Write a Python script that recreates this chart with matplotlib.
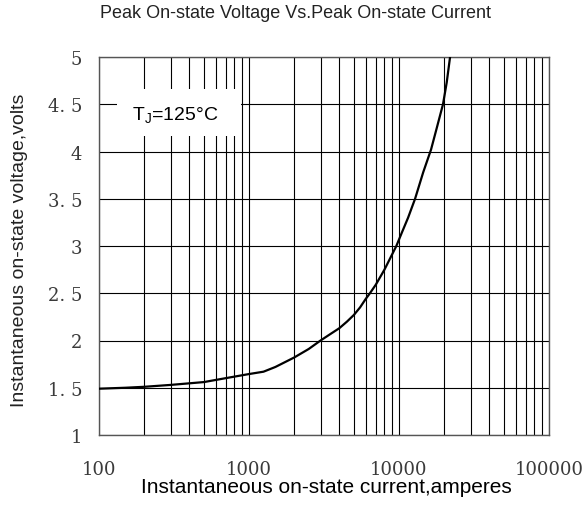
import numpy as np
import matplotlib
matplotlib.use('Agg')
import matplotlib.pyplot as plt
from matplotlib.ticker import FixedLocator, NullFormatter
from matplotlib.patches import Rectangle
from matplotlib.transforms import Bbox

# data
current = [100, 150, 200, 300, 500, 750, 1000, 1250, 1500, 2000, 2500, 3000, 3500,
           4000, 4500, 5000, 5500, 6000, 6400, 7000, 8000, 9600, 10500, 11500,
           12800, 14500, 16350, 18000, 19650, 20800, 21900]
voltage = [1.49, 1.50, 1.51, 1.53, 1.56, 1.61, 1.645, 1.67, 1.72, 1.82, 1.91, 2.00, 2.07,
           2.13, 2.20, 2.27, 2.35, 2.44, 2.50, 2.59, 2.75, 3.00, 3.15, 3.30,
           3.50, 3.78, 4.02, 4.27, 4.50, 4.73, 5.00]
x_ticks = [100, 1000, 10000, 100000]
x_labels = ['100', '1000', '10000', '100000']
y_ticks = [1, 1.5, 2, 2.5, 3, 3.5, 4, 4.5, 5]
y_labels = ['1', '1. 5', '2', '2. 5', '3', '3. 5', '4', '4. 5', '5']

plt.rcParams['mathtext.fontset'] = 'custom'
plt.rcParams['mathtext.rm'] = 'Liberation Sans'

fig = plt.figure(figsize=(5.87, 5.06), dpi=100)
ax = fig.add_axes([99/587, 1 - 436/506, 450/587, 378/506])

ax.plot(current, voltage, color='black', lw=1.6, zorder=4)

ax.set_xscale('log')
ax.set_xlim(100, 100000)
ax.set_ylim(1, 5)

minor = [m * 10**d for d in range(2, 5) for m in range(2, 10)]
ax.xaxis.set_minor_locator(FixedLocator(minor))
ax.xaxis.set_minor_formatter(NullFormatter())
ax.set_xticks(x_ticks)
ax.set_xticklabels(x_labels)
ax.set_yticks(y_ticks)
ax.set_yticklabels(y_labels)

ax.grid(True, which='both', axis='x', color='black', lw=0.8)
ax.grid(True, which='major', axis='y', color='black', lw=0.8)
ax.tick_params(which='both', length=0)
ax.tick_params(axis='x', pad=18)
ax.tick_params(axis='y', pad=12)
for lab in ax.get_xticklabels() + ax.get_yticklabels():
    lab.set_fontfamily('DejaVu Serif')
    lab.set_fontsize(13)
    lab.set_color('#3a3a3a')

for s in ax.spines.values():
    s.set_color('#555555')
    s.set_linewidth(1.0)

# white box behind the temperature label
ax.add_patch(Rectangle((0.04, 0.791), 0.276, 0.124, transform=ax.transAxes,
                       facecolor='white', edgecolor='none', zorder=3))
ax.text(0.073, 0.846, r'T$_{\rm J}$=125°C', transform=ax.transAxes,
        fontsize=14, family='Liberation Sans', va='center', ha='left', zorder=5)

fig.text(296/587, 1 - 14/506, 'Peak On-state Voltage Vs.Peak On-state Current',
         ha='center', va='center', fontsize=13, family='Liberation Sans', color='#222222')
fig.text(326/587, 1 - 488/506, 'Instantaneous on-state current,amperes',
         ha='center', va='center', fontsize=15, family='Liberation Sans')
ylab = fig.text(20/587, 1 - 250/506, 'Instantaneous on-state voltage,volts',
                ha='center', va='center', rotation=90, fontsize=14,
                family='Liberation Sans', color='#222222')
# the end of this label is cut off in the original
ylab.set_clip_box(Bbox([[0, 0], [587, 506 - 96]]))
ylab.set_clip_on(True)

fig.savefig('out.png', dpi=100)
